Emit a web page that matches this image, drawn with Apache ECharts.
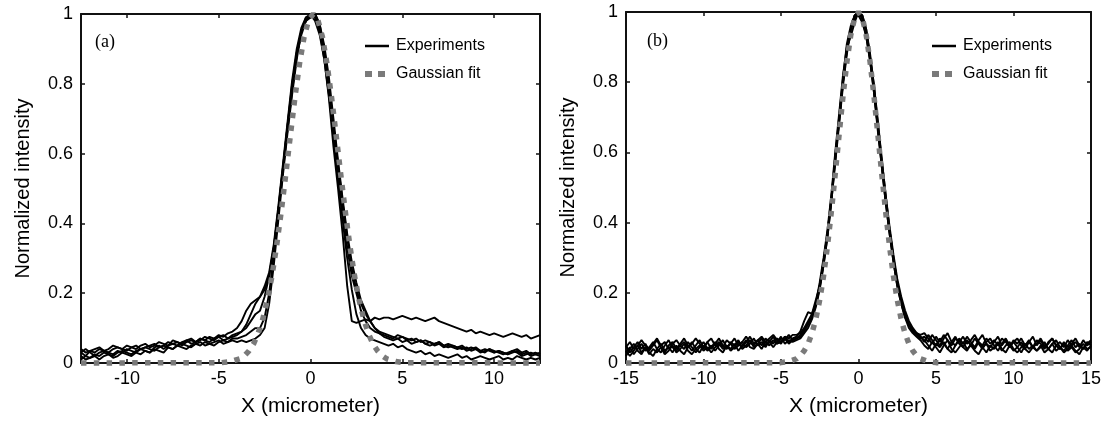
<!DOCTYPE html>
<html><head><meta charset="utf-8">
<script src="https://cdn.jsdelivr.net/npm/echarts@6/dist/echarts.min.js"></script>
<style>html,body{margin:0;padding:0;background:#fff}#c{width:1104px;height:422px}</style>
</head><body><div id="c"></div>
<script>
// ---------- Panel (a) ----------
const xA = [-12.5,-12.25,-12,-11.75,-11.5,-11.25,-11,-10.75,-10.5,-10.25,-10,-9.75,-9.5,-9.25,-9,-8.75,-8.5,-8.25,-8,-7.75,-7.5,-7.25,-7,-6.75,-6.5,-6.25,-6,-5.75,-5.5,-5.25,-5,-4.75,-4.5,-4.25,
 -4,-3.75,-3.5,-3.25,-3,-2.75,-2.5,-2.25,-2,-1.75,-1.5,-1.25,-1,-0.75,-0.5,-0.25,0,0.25,0.5,0.75,1,1.25,1.5,1.75,2,2.25,2.5,2.75,3,3.25,3.5,3.75,4,
 4.25,4.5,4.75,5,5.25,5.5,5.75,6,6.25,6.5,6.75,7,7.25,7.5,7.75,8,8.25,8.5,8.75,9,9.25,9.5,9.75,10,10.25,10.5,10.75,11,11.25,11.5,11.75,12,12.25,12.5];
const expA1 = [0.03,0.02,0.035,0.03,0.04,0.035,0.03,0.04,0.045,0.04,0.035,0.045,0.05,0.04,0.045,0.05,0.055,0.045,0.05,0.06,0.055,0.05,0.06,0.065,0.055,0.06,0.07,0.065,0.06,0.07,0.075,0.065,0.07,0.08,
 0.085,0.09,0.11,0.14,0.17,0.19,0.21,0.25,0.33,0.44,0.56,0.68,0.80,0.88,0.94,0.98,1.0,0.99,0.95,0.87,0.76,0.62,0.50,0.37,0.22,0.12,0.115,0.12,0.125,0.12,0.13,0.125,0.13,
 0.13,0.125,0.13,0.135,0.13,0.125,0.13,0.125,0.12,0.125,0.13,0.12,0.115,0.11,0.105,0.1,0.095,0.09,0.095,0.085,0.09,0.085,0.08,0.085,0.08,0.075,0.08,0.085,0.08,0.075,0.08,0.07,0.075,0.08];
const expA2 = [0.01,0.02,0.015,0.025,0.02,0.03,0.025,0.02,0.03,0.035,0.03,0.025,0.035,0.04,0.035,0.03,0.045,0.05,0.04,0.05,0.055,0.06,0.05,0.06,0.065,0.06,0.07,0.065,0.075,0.07,0.08,0.075,0.085,0.09,
 0.1,0.12,0.15,0.17,0.18,0.19,0.22,0.26,0.34,0.45,0.57,0.69,0.81,0.90,0.96,0.99,0.99,1.0,0.97,0.90,0.80,0.68,0.56,0.44,0.33,0.25,0.2,0.15,0.12,0.1,0.09,0.085,0.08,
 0.075,0.07,0.08,0.075,0.07,0.065,0.07,0.06,0.065,0.06,0.055,0.06,0.05,0.055,0.05,0.045,0.05,0.04,0.045,0.04,0.035,0.04,0.035,0.03,0.035,0.03,0.025,0.03,0.035,0.025,0.03,0.02,0.025,0.02];
const expA3 = [0.04,0.03,0.035,0.04,0.045,0.035,0.04,0.05,0.045,0.04,0.05,0.045,0.04,0.05,0.055,0.045,0.05,0.06,0.055,0.05,0.065,0.06,0.055,0.065,0.07,0.06,0.065,0.075,0.07,0.065,0.075,0.08,0.07,0.075,
 0.08,0.09,0.1,0.12,0.14,0.15,0.19,0.25,0.33,0.44,0.56,0.68,0.79,0.89,0.95,0.98,1.0,0.99,0.96,0.89,0.79,0.68,0.57,0.46,0.36,0.27,0.21,0.17,0.14,0.12,0.1,0.09,0.085,
 0.08,0.075,0.07,0.075,0.065,0.07,0.06,0.065,0.055,0.06,0.05,0.055,0.045,0.05,0.045,0.04,0.045,0.035,0.04,0.045,0.035,0.03,0.04,0.035,0.03,0.025,0.03,0.035,0.03,0.02,0.025,0.03,0.025,0.03];
const expA4 = [0.02,0.01,0.015,0.02,0.01,0.02,0.025,0.015,0.02,0.03,0.025,0.02,0.03,0.025,0.035,0.03,0.04,0.035,0.03,0.045,0.04,0.05,0.045,0.04,0.05,0.055,0.05,0.06,0.055,0.05,0.06,0.065,0.06,0.07,
 0.07,0.075,0.08,0.09,0.1,0.1,0.13,0.2,0.31,0.43,0.55,0.67,0.78,0.88,0.95,0.99,1.0,0.98,0.94,0.87,0.77,0.65,0.53,0.41,0.3,0.21,0.14,0.1,0.08,0.07,0.065,0.06,0.055,
 0.05,0.055,0.045,0.05,0.04,0.035,0.03,0.035,0.025,0.03,0.02,0.025,0.02,0.015,0.02,0.025,0.015,0.02,0.01,0.015,0.02,0.015,0.01,0.015,0.02,0.01,0.015,0.01,0.02,0.015,0.01,0.015,0.01,0.015];
const expA5 = [0.03,0.04,0.03,0.02,0.03,0.035,0.03,0.025,0.035,0.03,0.04,0.035,0.03,0.04,0.045,0.04,0.035,0.045,0.05,0.045,0.04,0.05,0.055,0.05,0.045,0.055,0.06,0.05,0.055,0.06,0.065,0.055,0.06,0.065,
 0.06,0.065,0.06,0.065,0.07,0.08,0.1,0.17,0.28,0.41,0.54,0.66,0.77,0.87,0.95,0.98,0.99,1.0,0.97,0.91,0.82,0.7,0.58,0.47,0.37,0.29,0.23,0.18,0.15,0.12,0.1,0.085,0.075,
 0.07,0.065,0.07,0.06,0.065,0.055,0.06,0.065,0.055,0.05,0.055,0.06,0.05,0.045,0.05,0.045,0.04,0.045,0.035,0.04,0.03,0.035,0.04,0.03,0.035,0.03,0.025,0.035,0.04,0.03,0.035,0.025,0.03,0.025];
const gaussXA = [-12.5,-4.85,-4.35,-3.85,-3.6,-3.35,-3.1,-2.85,-2.6,-2.35,-2.1,-1.85,-1.6,-1.35,-1.1,-0.85,-0.6,-0.35,-0.1,0.15,0.4,0.65,0.9,1.15,1.4,1.65,1.9,2.15,2.4,2.65,2.9,3.15,3.4,3.65,3.9,4.15,4.65,5.15,12.5];
const gaussYA = [0,0.001,0.004,0.012,0.021,0.035,0.055,0.085,0.126,0.18,0.249,0.334,0.432,0.539,0.651,0.76,0.857,0.934,0.983,1,0.983,0.934,0.857,0.76,0.651,0.539,0.432,0.334,0.249,0.18,0.126,0.085,0.055,0.035,0.021,0.012,0.004,0.001,0];

// ---------- Panel (b) ----------
const xB = [-15,-14.75,-14.5,-14.25,-14,-13.75,-13.5,-13.25,-13,-12.75,-12.5,-12.25,-12,-11.75,-11.5,-11.25,-11,-10.75,-10.5,-10.25,-10,-9.75,-9.5,-9.25,-9,-8.75,-8.5,-8.25,-8,-7.75,-7.5,-7.25,-7,-6.75,-6.5,-6.25,-6,-5.75,-5.5,-5.25,-5,-4.75,-4.5,-4.25,
 -4,-3.75,-3.5,-3.25,-3,-2.75,-2.5,-2.25,-2,-1.75,-1.5,-1.25,-1,-0.75,-0.5,-0.25,0,0.25,0.5,0.75,1,1.25,1.5,1.75,2,2.25,2.5,2.75,3,3.25,3.5,3.75,4,
 4.25,4.5,4.75,5,5.25,5.5,5.75,6,6.25,6.5,6.75,7,7.25,7.5,7.75,8,8.25,8.5,8.75,9,9.25,9.5,9.75,10,10.25,10.5,10.75,11,11.25,11.5,11.75,12,12.25,12.5,12.75,13,13.25,13.5,13.75,14,14.25,14.5,14.75,15];
const expB1 = [0.05,0.03,0.045,0.06,0.04,0.055,0.035,0.05,0.065,0.045,0.03,0.05,0.06,0.04,0.055,0.07,0.05,0.035,0.05,0.065,0.045,0.06,0.04,0.055,0.07,0.05,0.04,0.06,0.05,0.065,0.045,0.06,0.075,0.055,0.065,0.05,0.07,0.06,0.075,0.055,0.07,0.065,0.08,0.065,
 0.07,0.075,0.09,0.11,0.13,0.17,0.22,0.29,0.37,0.47,0.58,0.69,0.80,0.89,0.95,0.99,1.0,0.98,0.94,0.87,0.78,0.67,0.57,0.47,0.38,0.3,0.23,0.18,0.14,0.11,0.09,0.08,0.07,
 0.075,0.06,0.08,0.065,0.05,0.07,0.085,0.06,0.05,0.07,0.055,0.075,0.06,0.045,0.065,0.08,0.055,0.045,0.06,0.075,0.05,0.065,0.045,0.06,0.07,0.05,0.04,0.06,0.075,0.05,0.065,0.045,0.055,0.07,0.05,0.04,0.06,0.045,0.055,0.07,0.05,0.04,0.055,0.065];
const expB2 = [0.03,0.045,0.025,0.04,0.055,0.035,0.045,0.06,0.04,0.03,0.05,0.065,0.045,0.035,0.05,0.04,0.06,0.045,0.03,0.045,0.06,0.04,0.05,0.035,0.05,0.065,0.045,0.055,0.04,0.05,0.06,0.045,0.055,0.07,0.05,0.06,0.045,0.065,0.055,0.07,0.06,0.075,0.06,0.07,
 0.075,0.09,0.12,0.145,0.14,0.17,0.23,0.3,0.38,0.48,0.6,0.71,0.82,0.9,0.93,0.97,1.0,0.99,0.95,0.88,0.79,0.68,0.58,0.48,0.39,0.31,0.24,0.19,0.15,0.12,0.1,0.085,0.075,
 0.06,0.08,0.065,0.05,0.07,0.055,0.04,0.06,0.075,0.055,0.045,0.065,0.05,0.07,0.055,0.04,0.06,0.07,0.05,0.035,0.055,0.07,0.05,0.06,0.045,0.03,0.05,0.065,0.045,0.055,0.07,0.05,0.04,0.055,0.065,0.045,0.035,0.05,0.065,0.045,0.055,0.04,0.06,0.05];
const expB3 = [0.02,0.04,0.055,0.035,0.025,0.045,0.03,0.02,0.04,0.055,0.035,0.045,0.03,0.05,0.035,0.025,0.045,0.06,0.04,0.03,0.05,0.035,0.045,0.06,0.04,0.03,0.05,0.04,0.055,0.035,0.05,0.065,0.045,0.04,0.055,0.07,0.05,0.06,0.045,0.06,0.075,0.055,0.065,0.06,
 0.065,0.07,0.085,0.1,0.125,0.16,0.21,0.28,0.36,0.46,0.57,0.68,0.79,0.88,0.95,0.99,1.0,0.98,0.93,0.86,0.77,0.66,0.56,0.46,0.37,0.29,0.22,0.17,0.13,0.1,0.085,0.075,0.065,
 0.05,0.04,0.06,0.045,0.03,0.05,0.065,0.04,0.03,0.045,0.06,0.04,0.05,0.035,0.025,0.045,0.055,0.035,0.045,0.06,0.04,0.03,0.05,0.035,0.045,0.06,0.04,0.03,0.045,0.035,0.05,0.03,0.04,0.055,0.035,0.045,0.03,0.04,0.05,0.035,0.025,0.045,0.035,0.05];
const expB4 = [0.045,0.06,0.04,0.05,0.065,0.05,0.04,0.055,0.07,0.05,0.06,0.04,0.055,0.065,0.05,0.06,0.045,0.055,0.07,0.055,0.04,0.06,0.07,0.05,0.06,0.045,0.065,0.055,0.07,0.05,0.06,0.075,0.06,0.05,0.065,0.075,0.06,0.07,0.08,0.065,0.055,0.075,0.07,0.08,
 0.08,0.085,0.1,0.12,0.14,0.18,0.22,0.29,0.37,0.47,0.59,0.7,0.81,0.91,0.96,0.99,0.99,0.97,0.93,0.86,0.77,0.67,0.56,0.46,0.37,0.29,0.22,0.17,0.13,0.11,0.09,0.085,0.08,
 0.085,0.07,0.055,0.075,0.06,0.08,0.065,0.05,0.07,0.06,0.075,0.055,0.065,0.08,0.06,0.05,0.07,0.055,0.065,0.05,0.07,0.06,0.045,0.065,0.055,0.07,0.05,0.06,0.045,0.065,0.055,0.04,0.06,0.07,0.05,0.06,0.045,0.065,0.05,0.06,0.045,0.065,0.05,0.06];
const expB5 = [0.035,0.02,0.035,0.05,0.03,0.045,0.025,0.04,0.03,0.045,0.025,0.035,0.05,0.03,0.04,0.055,0.035,0.025,0.04,0.05,0.035,0.045,0.03,0.045,0.055,0.04,0.05,0.035,0.045,0.06,0.04,0.05,0.065,0.045,0.055,0.04,0.06,0.05,0.065,0.055,0.06,0.07,0.055,0.065,
 0.07,0.08,0.095,0.115,0.13,0.165,0.215,0.28,0.36,0.46,0.58,0.69,0.8,0.89,0.95,0.98,1.0,0.99,0.95,0.87,0.79,0.69,0.58,0.48,0.38,0.3,0.23,0.18,0.14,0.11,0.095,0.085,0.075,
 0.065,0.05,0.035,0.055,0.045,0.06,0.04,0.03,0.05,0.065,0.045,0.035,0.055,0.04,0.06,0.045,0.03,0.05,0.04,0.055,0.035,0.05,0.06,0.04,0.03,0.045,0.055,0.04,0.05,0.035,0.045,0.06,0.04,0.03,0.05,0.04,0.055,0.035,0.045,0.03,0.04,0.055,0.04,0.045];
const gaussXB = [-15,-5,-4.5,-4,-3.75,-3.5,-3.25,-3,-2.75,-2.5,-2.25,-2,-1.75,-1.5,-1.25,-1,-0.75,-0.5,-0.25,0,0.25,0.5,0.75,1,1.25,1.5,1.75,2,2.25,2.5,2.75,3,3.25,3.5,3.75,4,4.5,5,15];
const gaussYB = [0,0.001,0.004,0.012,0.021,0.035,0.055,0.085,0.126,0.18,0.249,0.334,0.432,0.539,0.651,0.76,0.857,0.934,0.983,1,0.983,0.934,0.857,0.76,0.651,0.539,0.432,0.334,0.249,0.18,0.126,0.085,0.055,0.035,0.021,0.012,0.004,0.001,0];

const panelLabels = ['(a)', '(b)'];
const legendNames = ['Experiments', 'Gaussian fit'];
const xAxisTitle = 'X (micrometer)';
const yAxisTitle = 'Normalized intensity';

// sanity checks on lengths
[[xA,[expA1,expA2,expA3,expA4,expA5]],[xB,[expB1,expB2,expB3,expB4,expB5]]].forEach(([xs, ys], p) => {
  ys.forEach((y, k) => { if (y.length !== xs.length) throw new Error('panel ' + p + ' curve ' + k + ' length ' + y.length + ' vs ' + xs.length); });
});
if (gaussXA.length !== gaussYA.length || gaussXB.length !== gaussYB.length) throw new Error('gauss length');

const SANS = '"Liberation Sans", Arial, Helvetica, sans-serif';
const SERIF = '"Liberation Serif", "Times New Roman", serif';
const AXC = '#111';
const GAUSS_COLOR = '#7a7a7a';

function xAxes(grid, min, max, showEnds) {
  return [{
    gridIndex: grid, type: 'value', min: min, max: max, position: 'bottom',
    axisLine: { onZero: false, lineStyle: { color: AXC, width: 2 } },
    axisTick: { inside: true, length: 4, lineStyle: { color: AXC, width: 1.5 } },
    splitLine: { show: false },
    axisLabel: { fontFamily: SANS, fontSize: 18, color: '#000', margin: 7,
      showMinLabel: showEnds, showMaxLabel: showEnds,
      formatter: v => (Math.abs(v % 5) < 1e-9 ? String(v) : '') },
    name: xAxisTitle, nameLocation: 'middle', nameGap: 33,
    nameTextStyle: { fontFamily: SANS, fontSize: 21, color: '#000' }
  }, {
    gridIndex: grid, type: 'value', min: min, max: max, position: 'top',
    axisLine: { onZero: false, lineStyle: { color: AXC, width: 2 } },
    axisTick: { inside: true, length: 4, lineStyle: { color: AXC, width: 1.5 } },
    splitLine: { show: false }, axisLabel: { show: false }
  }];
}
function yAxes(grid) {
  return [{
    gridIndex: grid, type: 'value', min: 0, max: 1, interval: 0.2, position: 'left',
    axisLine: { onZero: false, lineStyle: { color: AXC, width: 2 } },
    axisTick: { inside: true, length: 4, lineStyle: { color: AXC, width: 1.5 } },
    splitLine: { show: false },
    axisLabel: { fontFamily: SANS, fontSize: 18, color: '#000', margin: 8 },
    name: yAxisTitle, nameLocation: 'middle', nameGap: 48,
    nameTextStyle: { fontFamily: SANS, fontSize: 20, color: '#000' }
  }, {
    gridIndex: grid, type: 'value', min: 0, max: 1, interval: 0.2, position: 'right',
    axisLine: { onZero: false, lineStyle: { color: AXC, width: 2 } },
    axisTick: { inside: true, length: 4, lineStyle: { color: AXC, width: 1.5 } },
    splitLine: { show: false }, axisLabel: { show: false }
  }];
}

function expSeries(xs, ys, xi, yi) {
  return {
    type: 'line', name: legendNames[0], xAxisIndex: xi, yAxisIndex: yi,
    data: xs.map((x, i) => [x, ys[i]]), showSymbol: false, symbol: 'none',
    lineStyle: { color: '#000', width: 1.9 }, itemStyle: { color: '#000', opacity: 0 },
    silent: true, z: 2
  };
}
function gaussSeries(xs, ys, xi, yi) {
  return {
    type: 'line', name: legendNames[1], xAxisIndex: xi, yAxisIndex: yi,
    data: xs.map((x, i) => [x, ys[i]]), showSymbol: false, symbol: 'none', clip: false,
    lineStyle: { color: GAUSS_COLOR, width: 5.5, type: [5.5, 7.3], cap: 'butt' },
    itemStyle: { color: GAUSS_COLOR, opacity: 0 }, silent: true, z: 3
  };
}

function legend(left) {
  return {
    left: left, top: 38, padding: 0, orient: 'vertical', itemWidth: 24, itemHeight: 14, itemGap: 12,
    selectedMode: false,
    textStyle: { fontFamily: SANS, fontSize: 16, color: '#000', padding: [0, 0, 0, 2] },
    itemStyle: { opacity: 0 },
    data: [
      { name: legendNames[0], itemStyle: { opacity: 0 }, lineStyle: { color: '#000', width: 2.5, type: 'solid' } },
      { name: legendNames[1], itemStyle: { opacity: 0 }, lineStyle: { color: GAUSS_COLOR, width: 6, type: [7, 6], cap: 'butt' } }
    ]
  };
}

const option = {
  animation: false,
  backgroundColor: '#fff',
  title: [
    { text: panelLabels[0], left: 90, top: 28, textStyle: { fontFamily: SERIF, fontSize: 18, fontWeight: 'normal', color: '#000' } },
    { text: panelLabels[1], left: 642, top: 27, textStyle: { fontFamily: SERIF, fontSize: 18, fontWeight: 'normal', color: '#000' } }
  ],
  legend: [legend(362), legend(929)],
  grid: [
    { left: 81, right: 564, top: 14, bottom: 59 },
    { left: 626, right: 2, top: 12, bottom: 59 }
  ],
  xAxis: [...xAxes(0, -12.5, 12.5, false), ...xAxes(1, -15, 15, true)],
  yAxis: [...yAxes(0), ...yAxes(1)],
  series: [
    expSeries(xA, expA1, 0, 0), expSeries(xA, expA2, 0, 0), expSeries(xA, expA3, 0, 0),
    expSeries(xA, expA4, 0, 0), expSeries(xA, expA5, 0, 0),
    gaussSeries(gaussXA, gaussYA, 0, 0),
    expSeries(xB, expB1, 2, 2), expSeries(xB, expB2, 2, 2), expSeries(xB, expB3, 2, 2),
    expSeries(xB, expB4, 2, 2), expSeries(xB, expB5, 2, 2),
    gaussSeries(gaussXB, gaussYB, 2, 2)
  ]
};

const chart = echarts.init(document.getElementById('c'), null, { renderer: 'canvas' });
chart.setOption(option);
</script>
</body></html>
